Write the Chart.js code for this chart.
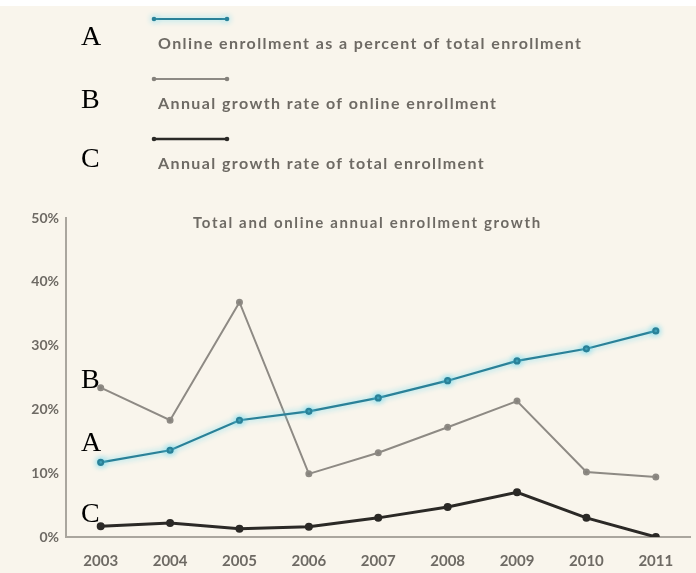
<!DOCTYPE html>
<html>
<head>
<meta charset="utf-8">
<script src="https://cdn.jsdelivr.net/npm/chart.js@4.4.1/dist/chart.umd.min.js"></script>
<style>
  html, body { margin: 0; padding: 0; background: #fff; }
  #wrap { position: relative; width: 696px; height: 573px; }
  #enrollChart { filter: blur(0.55px); }
  .tag { position: absolute; font-family: "Liberation Serif", "DejaVu Serif", serif; font-size: 28px; line-height: 1; color: #000; }
</style>
</head>
<body>
<div id="wrap">
  <canvas id="enrollChart" width="696" height="573"></canvas>
  <div class="tag" style="left:81px;top:22px">A</div>
  <div class="tag" style="left:81px;top:85px">B</div>
  <div class="tag" style="left:81px;top:144px">C</div>
  <div class="tag" style="left:81px;top:365px">B</div>
  <div class="tag" style="left:81px;top:428px">A</div>
  <div class="tag" style="left:81px;top:499px">C</div>
</div>
<script>
const years = ['2003', '2004', '2005', '2006', '2007', '2008', '2009', '2010', '2011'];
const onlineShare = [11.7, 13.6, 18.3, 19.7, 21.8, 24.5, 27.6, 29.5, 32.3];
const onlineGrowth = [23.4, 18.3, 36.8, 9.9, 13.2, 17.2, 21.3, 10.2, 9.4];
const totalGrowth = [1.7, 2.2, 1.3, 1.6, 3.0, 4.7, 7.0, 3.0, 0.0];
const seriesNames = [
  'Online enrollment as a percent of total enrollment',
  'Annual growth rate of online enrollment',
  'Annual growth rate of total enrollment'
];
const yTicks = [0, 10, 20, 30, 40, 50];

const cream = '#f9f5ec';
const textGray = '#6e6a64';
const sansFont = 'Lato, "Open Sans", sans-serif';

// cream page with a thin white band along the top
const backdrop = {
  id: 'backdrop',
  beforeDraw(chart) {
    const ctx = chart.ctx;
    ctx.save();
    ctx.fillStyle = '#fff';
    ctx.fillRect(0, 0, chart.width, chart.height);
    ctx.fillStyle = cream;
    ctx.fillRect(0, 6, chart.width, chart.height - 6);
    ctx.restore();
  }
};

// soft cyan halo under the online-share line
const glow = {
  id: 'glow',
  beforeDatasetDraw(chart, args) {
    if (args.index !== 0) return;
    chart.ctx.save();
    chart.ctx.shadowColor = 'rgba(95, 215, 240, 0.95)';
    chart.ctx.shadowBlur = 6;
  },
  afterDatasetDraw(chart, args) {
    if (args.index !== 0) return;
    chart.ctx.restore();
  }
};

// stacked legend at the top and the title inside the plot
const keyAndTitle = {
  id: 'keyAndTitle',
  afterDraw(chart) {
    const ctx = chart.ctx;
    const rows = [19, 79, 139];
    ctx.save();
    chart.data.datasets.forEach((ds, i) => {
      const y = rows[i];
      ctx.save();
      if (i === 0) {
        ctx.shadowColor = 'rgba(95, 215, 240, 0.95)';
        ctx.shadowBlur = 6;
      }
      ctx.strokeStyle = ds.borderColor;
      ctx.lineWidth = i === 2 ? 2.5 : 2;
      ctx.beginPath();
      ctx.moveTo(154, y);
      ctx.lineTo(227, y);
      ctx.stroke();
      ctx.fillStyle = ds.pointBackgroundColor;
      [154, 227].forEach(x => {
        ctx.beginPath();
        ctx.arc(x, y, 2.3, 0, Math.PI * 2);
        ctx.fill();
      });
      ctx.restore();
      ctx.fillStyle = textGray;
      ctx.font = 'bold 16px ' + sansFont;
      ctx.letterSpacing = '1.4px';
      ctx.textBaseline = 'middle';
      ctx.textAlign = 'left';
      ctx.fillText(ds.label, 158, y + 25);
    });
    ctx.font = 'bold 15px ' + sansFont;
    ctx.letterSpacing = '1.65px';
    ctx.textAlign = 'left';
    ctx.textBaseline = 'middle';
    ctx.fillStyle = textGray;
    ctx.fillText('Total and online annual enrollment growth', 193, 223);
    ctx.restore();
  }
};

new Chart(document.getElementById('enrollChart'), {
  type: 'line',
  data: {
    labels: years,
    datasets: [
      {
        label: seriesNames[0],
        data: onlineShare,
        borderColor: '#2a8198',
        pointBackgroundColor: '#2a8198',
        borderWidth: 2.2
      },
      {
        label: seriesNames[1],
        data: onlineGrowth,
        borderColor: '#8e8a84',
        pointBackgroundColor: '#85817b',
        borderWidth: 2
      },
      {
        label: seriesNames[2],
        data: totalGrowth,
        borderColor: '#2b2926',
        pointBackgroundColor: '#2b2926',
        borderWidth: 3
      }
    ]
  },
  options: {
    responsive: false,
    animation: false,
    layout: { padding: { top: 218, right: 2, left: 0, bottom: 0 } },
    elements: {
      line: { tension: 0, fill: false },
      point: { radius: 2.5, borderWidth: 0, hoverRadius: 2.5 }
    },
    plugins: {
      legend: { display: false },
      title: { display: false },
      tooltip: { enabled: false }
    },
    scales: {
      x: {
        offset: true,
        grid: { display: false, drawTicks: false },
        border: { color: '#aaa69e', width: 2 },
        ticks: { color: textGray, font: { family: sansFont, size: 15, weight: 'bold' }, padding: 15, maxRotation: 0 },
        afterFit(scale) { scale.height = 36; }
      },
      y: {
        min: 0,
        max: 50,
        grid: { display: false, drawTicks: false },
        border: { color: '#aaa69e', width: 2 },
        afterBuildTicks(scale) { scale.ticks = yTicks.map(v => ({ value: v })); },
        ticks: {
          color: textGray,
          font: { family: sansFont, size: 14, weight: 'bold' },
          padding: 7,
          callback: v => v + '%'
        },
        afterFit(scale) { scale.width = 66; }
      }
    }
  },
  plugins: [backdrop, glow, keyAndTitle]
});
</script>
</body>
</html>
